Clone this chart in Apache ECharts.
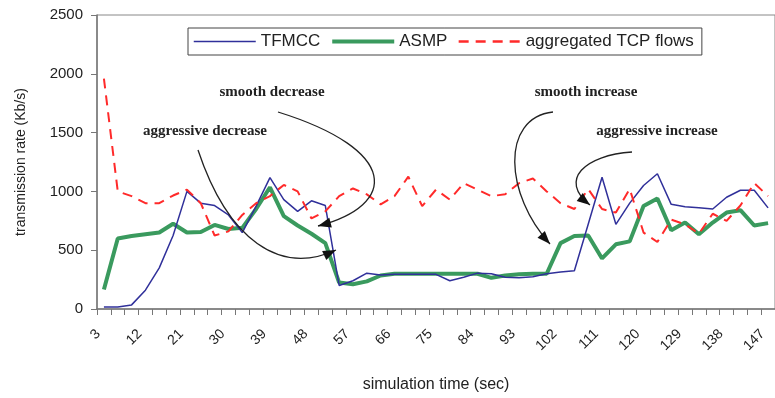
<!DOCTYPE html>
<html>
<head>
<meta charset="utf-8">
<script src="https://cdn.jsdelivr.net/npm/echarts@6/dist/echarts.min.js"></script>
<style>html,body{margin:0;padding:0;background:#fff}#c{width:775px;height:398px}</style>
</head>
<body>
<div id="c"></div>
<script>
var categories = ['3','6','9','12','15','18','21','24','27','30','33','36','39','42','45','48','51','54','57','60','63','66','69','72','75','78','81','84','87','90','93','96','99','102','105','108','111','114','117','120','123','126','129','132','135','138','141','144','147'];
var tfmcc = [17,17,35,160,350,625,1000,900,880,800,650,875,1117,930,830,920,880,200,240,305,290,295,295,295,295,240,270,305,300,270,265,275,300,315,325,720,1120,720,900,1050,1150,890,870,860,850,950,1010,1010,860];
var asmp = [165,600,620,635,650,725,650,655,715,680,690,850,1035,790,710,640,560,225,210,235,285,300,300,300,300,300,300,300,265,285,295,300,300,560,620,625,430,550,575,875,940,670,735,635,735,820,840,710,730];
var tcp = [1960,1000,960,900,900,965,1015,900,625,660,800,900,960,1055,1000,770,830,960,1025,975,890,960,1125,875,1015,930,1070,1015,960,975,1070,1110,1000,900,850,1020,850,820,1020,650,570,760,720,640,810,750,880,1070,960];
var seriesNames = ['TFMCC','ASMP','aggregated TCP flows'];
var notes = [
  {text:'smooth decrease', x:272, y:92, p:[[278,112],[400,150],[398,205],[318,226]]},
  {text:'aggressive decrease', x:205, y:131, p:[[198,150],[228,240],[280,276],[336,250]]},
  {text:'smooth increase', x:586, y:92, p:[[553,112],[500,118],[505,195],[550,244]]},
  {text:'aggressive increase', x:657, y:131, p:[[632,152],[585,155],[558,180],[590,205]]}
];

var chart = echarts.init(document.getElementById('c'), null, {renderer:'canvas'});
var font = '"Liberation Sans", Arial, sans-serif';
var colors = {TFMCC:'#30309a', ASMP:'#3a9a5e', TCP:'#ff2a2a'};

function arrowHead(p3, c2, len, wid) {
  var dx = p3[0]-c2[0], dy = p3[1]-c2[1];
  var d = Math.sqrt(dx*dx+dy*dy); dx/=d; dy/=d;
  var bx = p3[0]-dx*len, by = p3[1]-dy*len;
  var px = -dy*wid/2, py = dx*wid/2;
  return [[p3[0],p3[1]],[bx+px,by+py],[bx-px,by-py]];
}
var graphics = [];
notes.forEach(function(n){
  graphics.push({type:'text', x:n.x, y:n.y, style:{text:n.text, x:0, y:0, align:'center', verticalAlign:'middle', font:'bold 15px "Liberation Serif", "Times New Roman", serif', fill:'#222'}, z:100});
  var p = n.p;
  graphics.push({type:'bezierCurve', shape:{x1:p[0][0],y1:p[0][1],cpx1:p[1][0],cpy1:p[1][1],cpx2:p[2][0],cpy2:p[2][1],x2:p[3][0],y2:p[3][1]}, style:{stroke:'#222', lineWidth:1.3, fill:null}, z:100});
  graphics.push({type:'polygon', shape:{points:arrowHead(p[3],p[2],13,10)}, style:{fill:'#111'}, z:100});
});

chart.setOption({
  animation:false,
  backgroundColor:'#fff',
  grid:{left:97, top:15, width:686, height:300, show:true, borderColor:'#888', borderWidth:1},
  legend:{
    data:[
      {name:seriesNames[0], lineStyle:{width:1.5}},
      {name:seriesNames[1], lineStyle:{width:4}},
      {name:seriesNames[2], lineStyle:{width:2.5}}
    ],
    left:188, top:28, orient:'horizontal',
    borderColor:'#444', borderWidth:1, padding:[5,8,5,5], itemGap:10, itemWidth:62, itemHeight:14,
    itemStyle:{opacity:0},
    textStyle:{fontFamily:font, fontSize:17, color:'#222'}
  },
  xAxis:{
    type:'category', data:categories, boundaryGap:true,
    name:'simulation time (sec)', nameLocation:'middle', nameGap:68,
    nameTextStyle:{fontFamily:font, fontSize:16, color:'#222'},
    axisLine:{lineStyle:{color:'#777', width:1.5}},
    axisTick:{show:true, interval:0, length:6, lineStyle:{color:'#777'}},
    axisLabel:{interval:2, rotate:45, margin:17, padding:[0,8,0,0], fontFamily:font, fontSize:14, color:'#222'},
    splitLine:{show:false}
  },
  yAxis:{
    type:'value', min:0, max:2500, interval:500,
    name:'transmission rate (Kb/s)', nameLocation:'middle', nameGap:69, nameRotate:90,
    nameTextStyle:{fontFamily:font, fontSize:14, color:'#222'},
    axisLine:{show:true, lineStyle:{color:'#777', width:1.5}},
    axisTick:{show:true, length:6, lineStyle:{color:'#777'}},
    axisLabel:{margin:14, fontFamily:font, fontSize:15, color:'#222', formatter:function(v){return String(v);}},
    splitLine:{show:false}
  },
  series:[
    {name:seriesNames[1], type:'line', data:asmp, symbol:'none', showSymbol:false, z:2, lineStyle:{color:colors.ASMP, width:4}, itemStyle:{color:colors.ASMP}},
    {name:seriesNames[0], type:'line', data:tfmcc, symbol:'none', showSymbol:false, z:3, lineStyle:{color:colors.TFMCC, width:1.5}, itemStyle:{color:colors.TFMCC}},
    {name:seriesNames[2], type:'line', data:tcp, symbol:'none', showSymbol:false, z:4, lineStyle:{color:colors.TCP, width:2, type:[10,7]}, itemStyle:{color:colors.TCP}}
  ],
  graphic:graphics
});
</script>
</body>
</html>
